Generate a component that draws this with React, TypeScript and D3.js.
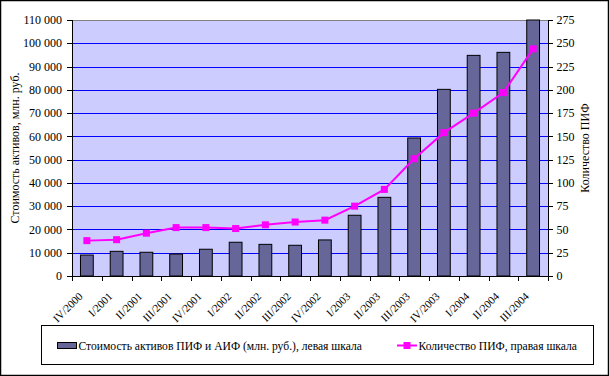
import React from "react";
import * as d3 from "d3";

const categories = ["IV/2000","I/2001","II/2001","III/2001","IV/2001","I/2002","II/2002","III/2002","IV/2002","I/2003","II/2003","III/2003","IV/2003","I/2004","II/2004","III/2004"];
const assets = [9000, 10600, 10200, 9450, 11500, 14500, 13600, 13200, 15500, 26100, 33800, 59300, 80200, 94800, 96100, 110000];
const fundCount = [38, 39, 46, 52, 52, 51, 55, 58, 60, 75, 93, 126, 154, 175, 197, 244];
const leftTicks = [0,10000,20000,30000,40000,50000,60000,70000,80000,90000,100000,110000];
const rightTicks = [0,25,50,75,100,125,150,175,200,225,250,275];
const barLabel = "Стоимость активов ПИФ и АИФ (млн. руб.), левая шкала";
const lineLabel = "Количество ПИФ, правая шкала";
const leftTitle = "Стоимость активов, млн. руб.";
const rightTitle = "Количество ПИФ";

export default function App() {
  const W = 609, H = 376;
  const L = 72, R = 548, T = 20, B = 276;
  const x = d3.scaleBand<string>().domain(categories).range([L, R]).paddingInner(0).paddingOuter(0);
  const yL = d3.scaleLinear().domain([0, 110000]).range([B, T]);
  const yR = d3.scaleLinear().domain([0, 275]).range([B, T]);
  const bw = x.bandwidth();
  const barW = bw * 0.43;
  const fmt = (v: number) => d3.format(",")(v).replace(/,/g, " ");
  const line = d3.line<number>().x((_, i) => x(categories[i])! + bw / 2).y(d => yR(d));
  const ts = { fontFamily: "Liberation Serif, Times New Roman, serif" };
  const cy = (T + B) / 2;
  return (
    <svg width={W} height={H} style={{ position: "absolute", left: 0, top: 0, background: "#fff" }}>
      <rect x={0.5} y={0.5} width={W - 1} height={H - 1} fill="#fff" stroke="#000" strokeWidth={1.5} />
      <rect x={L} y={T} width={R - L} height={B - T} fill="#CCCCFF" />
      {leftTicks.filter(t => t > 0 && t < 110000).map(t => (
        <line key={t} x1={L} x2={R} y1={Math.round(yL(t)) + 0.5} y2={Math.round(yL(t)) + 0.5} stroke="#0000FF" strokeWidth={1} />
      ))}
      <line x1={L} x2={R} y1={T + 0.5} y2={T + 0.5} stroke="#808080" strokeWidth={1} />
      {categories.map((c, i) => (
        <rect key={c} x={x(c)! + (bw - barW) / 2} y={yL(assets[i])} width={barW} height={B - yL(assets[i])} fill="#666699" stroke="#000" strokeWidth={1} />
      ))}
      <path d={line(fundCount) || ""} fill="none" stroke="#FF00FF" strokeWidth={2} />
      {fundCount.map((v, i) => (
        <rect key={i} x={x(categories[i])! + bw / 2 - 3.5} y={yR(v) - 3.5} width={7} height={7} fill="#FF00FF" />
      ))}
      {/* left axis */}
      <line x1={L + 0.5} x2={L + 0.5} y1={T} y2={B} stroke="#000" />
      {leftTicks.map(t => (
        <g key={t}>
          <line x1={L - 5} x2={L} y1={Math.round(yL(t)) + 0.5} y2={Math.round(yL(t)) + 0.5} stroke="#000" />
          <text x={L - 10} y={yL(t)} dy="0.35em" textAnchor="end" fontSize={12} style={ts}>{fmt(t)}</text>
        </g>
      ))}
      {/* right axis */}
      <line x1={R + 0.5} x2={R + 0.5} y1={T} y2={B} stroke="#000" />
      {rightTicks.map(t => (
        <g key={t}>
          <line x1={R} x2={R + 5} y1={Math.round(yR(t)) + 0.5} y2={Math.round(yR(t)) + 0.5} stroke="#000" />
          <text x={R + 8.5} y={yR(t)} dy="0.35em" textAnchor="start" fontSize={12} style={ts}>{t}</text>
        </g>
      ))}
      {/* bottom axis */}
      <line x1={L} x2={R} y1={B + 0.5} y2={B + 0.5} stroke="#000" />
      {categories.map((c) => (
        <line key={c} x1={Math.round(x(c)!) + 0.5} x2={Math.round(x(c)!) + 0.5} y1={B} y2={B + 5} stroke="#000" />
      ))}
      <line x1={R + 0.5} x2={R + 0.5} y1={B} y2={B + 5} stroke="#000" />
      {categories.map(c => (
        <text key={c} transform={`translate(${x(c)! + bw / 2 - 3.5},${B + 21}) rotate(-45)`} textAnchor="end" fontSize={11} style={ts}>{c}</text>
      ))}
      <text transform={`translate(15,${cy}) rotate(-90)`} textAnchor="middle" fontSize={12} dy="0.35em" style={ts}>{leftTitle}</text>
      <text transform={`translate(585,${cy}) rotate(-90)`} textAnchor="middle" fontSize={12} dy="0.35em" style={ts}>{rightTitle}</text>
      {/* legend */}
      <rect x={41.5} y={325.5} width={552} height={39} fill="#fff" stroke="#000" strokeWidth={1} />
      <rect x={57.5} y={342.5} width={19} height={6} fill="#666699" stroke="#000" />
      <text x={78.5} y={345.5} dy="0.35em" fontSize={11.6} style={ts}>{barLabel}</text>
      <line x1={397} x2={417} y1={345.5} y2={345.5} stroke="#FF00FF" strokeWidth={2} />
      <rect x={403.5} y={342} width={7} height={7} fill="#FF00FF" />
      <text x={418.5} y={345.5} dy="0.35em" fontSize={11.6} style={ts}>{lineLabel}</text>
    </svg>
  );
}
